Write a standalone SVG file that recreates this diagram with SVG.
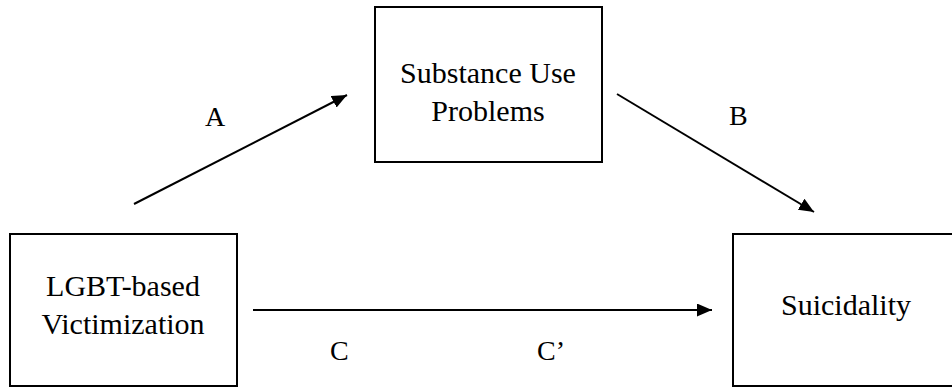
<svg xmlns="http://www.w3.org/2000/svg" width="952" height="391" viewBox="0 0 952 391">
<style>
.box{fill:#fff;stroke:#000;stroke-width:2}
text{font-family:'Liberation Serif','Times New Roman',Times,'DejaVu Serif',serif;fill:#000}
.t{font-size:30px;text-anchor:middle}
.l{font-size:28px}
.c{stroke:#000;stroke-width:2;fill:none;marker-end:url(#ah)}
</style>
<defs>
<marker id="ah" markerUnits="userSpaceOnUse" markerWidth="16" markerHeight="14" refX="15" refY="6.5" orient="auto">
<path d="M0,0 L15,6.5 L0,13 Z" fill="#000"/>
</marker>
</defs>
<rect width="952" height="391" fill="#fff"/>
<g id="victimization">
<rect class="box" x="10" y="234" width="227" height="152"/>
<text class="t" x="123" y="296" font-family="Liberation Serif">LGBT-based</text>
<text class="t" x="123" y="334" font-family="Liberation Serif">Victimization</text>
</g>
<g id="substance">
<rect class="box" x="375" y="7" width="227" height="155"/>
<text class="t" x="488" y="83" font-family="Liberation Serif">Substance Use</text>
<text class="t" x="488" y="121" font-family="Liberation Serif">Problems</text>
</g>
<g id="suicidality">
<rect class="box" x="733" y="234" width="227" height="152"/>
<text class="t" x="846" y="315" font-family="Liberation Serif">Suicidality</text>
</g>
<g id="connectors">
<line class="c" x1="134" y1="204" x2="347" y2="95"/>
<line class="c" x1="617" y1="94" x2="814" y2="212"/>
<line class="c" x1="253" y1="310" x2="712" y2="310"/>
</g>
<g id="labels">
<text class="l" x="205" y="126" font-family="Liberation Serif">A</text>
<text class="l" x="729" y="125" font-family="Liberation Serif">B</text>
<text class="l" x="330" y="360" font-family="Liberation Serif">C</text>
<text class="l" x="537" y="360" font-family="Liberation Serif">C’</text>
</g>
</svg>
